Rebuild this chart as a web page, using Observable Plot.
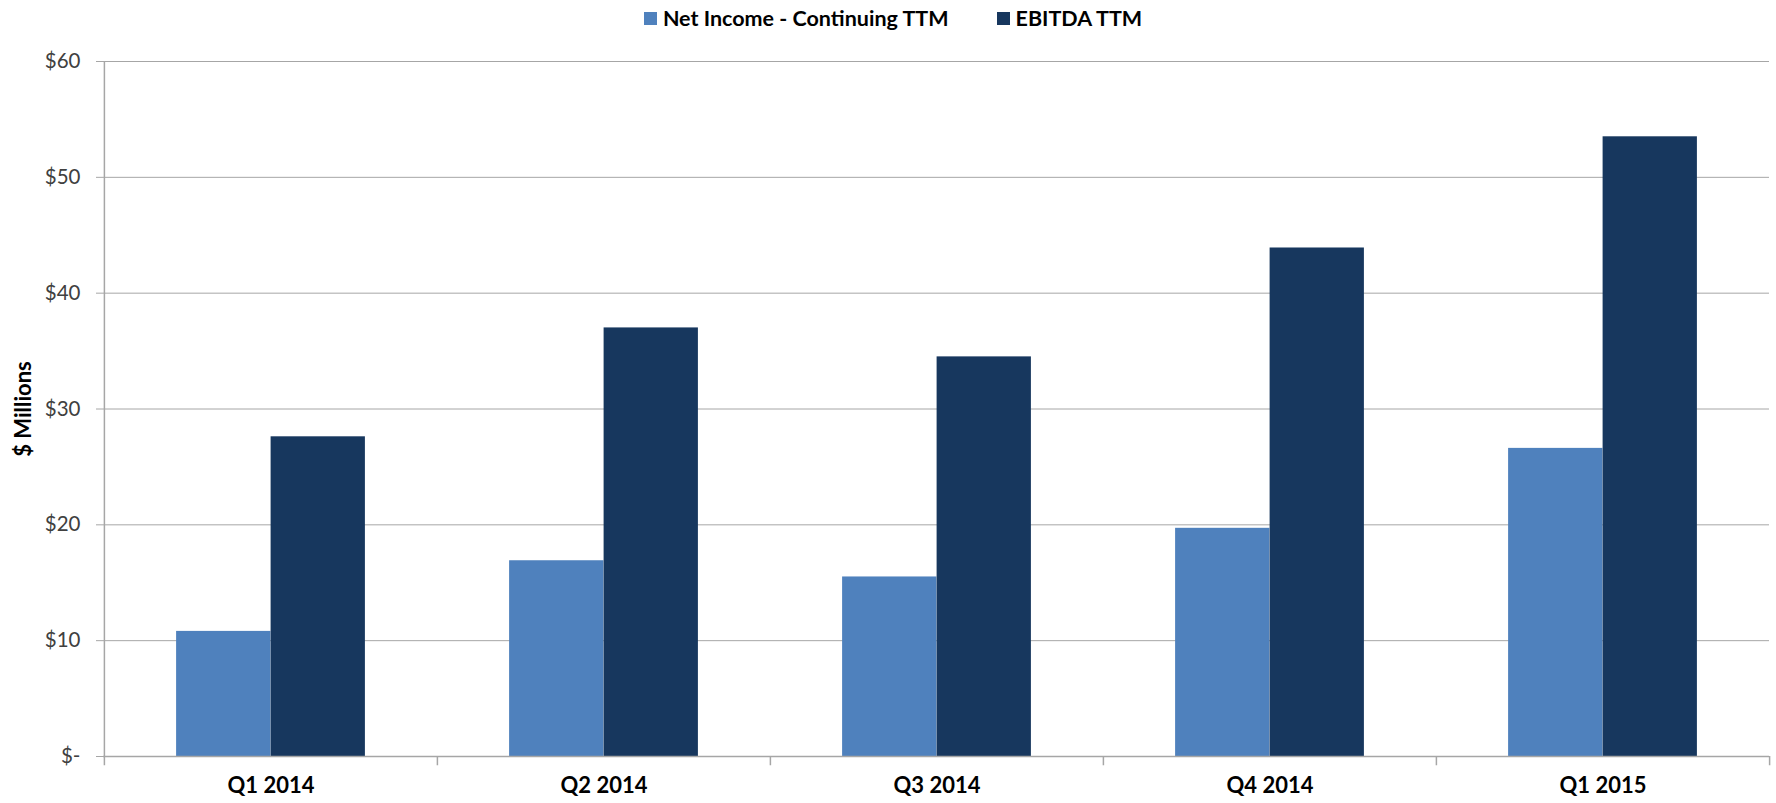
<!DOCTYPE html>
<html>
<head>
<meta charset="utf-8">
<script src="https://cdn.jsdelivr.net/npm/d3@7"></script>
<script src="https://cdn.jsdelivr.net/npm/@observablehq/plot@0.6"></script>
<style>
  html, body { margin: 0; padding: 0; background: #fff; }
  body { width: 1776px; height: 803px; overflow: hidden; font-family: Lato, "Open Sans", sans-serif; }
  #legend { height: 36px; display: flex; justify-content: center; align-items: center; gap: 48px; font-weight: bold; font-size: 21.5px; color: #000; padding-left: 10px; box-sizing: border-box; }
  #legend .item { display: flex; align-items: center; gap: 6px; }
  #legend .sw { width: 13px; height: 13px; display: inline-block; }
</style>
</head>
<body>
<div id="legend"></div>
<div id="chart"></div>
<script>
const quarters = ["Q1 2014", "Q2 2014", "Q3 2014", "Q4 2014", "Q1 2015"];
const netIncome = [10.8, 16.9, 15.5, 19.7, 26.6];
const ebitda = [27.6, 37.0, 34.5, 43.9, 53.5];
const seriesNames = ["Net Income - Continuing TTM", "EBITDA TTM"];
const seriesColors = ["#4F81BD", "#17375E"];
const yTicks = [0, 10, 20, 30, 40, 50, 60];

const legend = document.getElementById("legend");
seriesNames.forEach((n, i) => {
  const it = document.createElement("span");
  it.className = "item";
  const sw = document.createElement("span");
  sw.className = "sw";
  sw.style.background = seriesColors[i];
  it.appendChild(sw);
  it.appendChild(document.createTextNode(n));
  legend.appendChild(it);
});

const W = 1776, H = 767;
const mL = 103, mR = 7, mT = 25, mB = 47;
const band = (W - mL - mR) / quarters.length;
const barW = 94.5;
const half = band / 2;

const net = quarters.map((q, i) => ({quarter: q, value: netIncome[i]}));
const eb = quarters.map((q, i) => ({quarter: q, value: ebitda[i]}));
const seps = quarters.map((q, i) => ({quarter: q, top: i === 0 ? 60 : 0}));
const lastSep = [{quarter: quarters[quarters.length - 1], top: 0}];

const chart = Plot.plot({
  width: W,
  height: H,
  marginLeft: mL,
  marginRight: mR,
  marginTop: mT,
  marginBottom: mB,
  style: {fontFamily: "Lato, 'Open Sans', sans-serif", background: "#fff", overflow: "visible"},
  x: {domain: quarters, padding: 0, label: null},
  y: {domain: [0, 60], label: null},
  marks: [
    Plot.gridY(yTicks, {stroke: "#a6a6a6", strokeOpacity: 1, strokeWidth: 1}),
    Plot.barY(net, {x: "quarter", y: "value", fill: seriesColors[0], insetLeft: half - barW, insetRight: half}),
    Plot.barY(eb, {x: "quarter", y: "value", fill: seriesColors[1], insetLeft: half, insetRight: half - barW}),
    Plot.ruleY([0], {stroke: "#a6a6a6", strokeWidth: 1.5}),
    Plot.ruleX(seps, {x: "quarter", y1: -0.8, y2: "top", dx: -half, stroke: "#a6a6a6", strokeWidth: 1.5, clip: false}),
    Plot.ruleX(lastSep, {x: "quarter", y1: -0.8, y2: "top", dx: half, stroke: "#a6a6a6", strokeWidth: 1.5, clip: false}),
    Plot.axisY(yTicks, {
      tickSize: 7, tickPadding: 16, stroke: "#a6a6a6",
      tickFormat: d => d === 0 ? "$-" : "$" + d,
      fontSize: 20.5, fill: "#404040", label: null
    }),
    Plot.axisX({tickSize: 0, tickPadding: 21, fontSize: 22, fontWeight: "bold", fill: "#000", label: null}),
    Plot.text(["$ Millions"], {frameAnchor: "left", textAnchor: "middle", dx: -80, rotate: -90, fontSize: 22, fontWeight: "bold", fill: "#000"})
  ]
});
document.getElementById("chart").appendChild(chart);
</script>
</body>
</html>
